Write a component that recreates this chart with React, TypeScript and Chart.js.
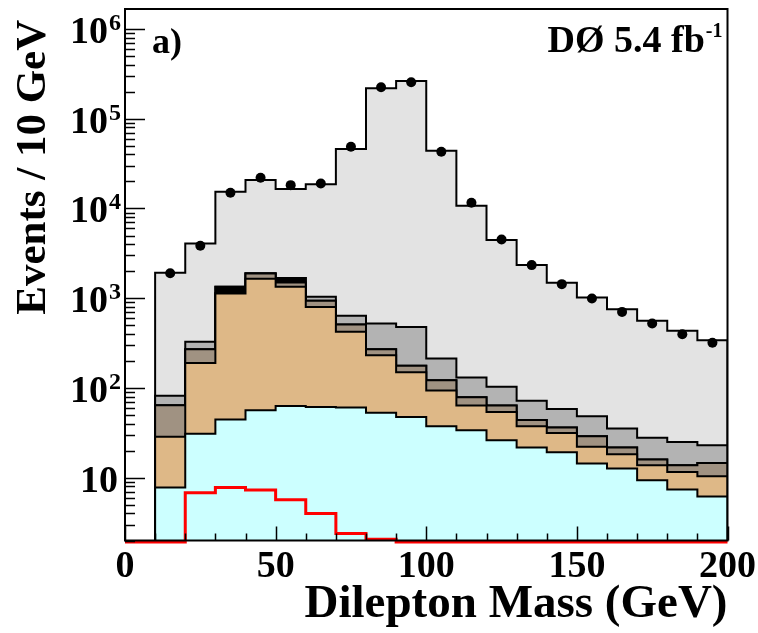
import React, { useEffect, useRef } from "react";
import { Chart, registerables } from "chart.js";

Chart.register(...registerables);

// ---- data (10 GeV bins, low edges) ----
const binLowEdges = [10, 20, 30, 40, 50, 60, 70, 80, 90, 100, 110, 120, 130, 140, 150, 160, 170, 180, 190];
const binWidth = 10;

// background components, stacked bottom -> top
const multijet = [7.8, 31, 44.6, 56.6, 63, 61.6, 60.5, 53, 47.6, 37.5, 33.9, 26.2, 21.7, 19.2, 14.4, 12.7, 9.4, 7.4, 6.2];
const ztautau = [20.8, 159, 1085, 1593, 1277, 738, 362, 179, 102, 56.5, 29.8, 28, 15.8, 12.4, 7.7, 5.6, 4.4, 4.2, 4.2];
const diboson = [35.7, 80, 10, 240, 154, 137, 88, 38, 27, 28, 15, 9.5, 6.5, 4.6, 6.9, 3.4, 2.2, 2.2, 4.2];
const wgamma = [0, 0, 200, 0, 186, 0, 0, 0, 0, 0, 0, 0, 0, 0, 0, 0, 0, 0, 0];
const wjets = [17.7, 57, 0, 10, 0, 101, 126, 254, 303, 91, 52.3, 39.3, 28.3, 22.1, 19.5, 13.6, 12, 11.3, 8.5];
const zee = [1838, 3753, 14010, 18850, 14770, 17542, 45263, 217476, 262520, 43787, 10569, 4347, 2268, 1428, 972, 720, 532, 408, 318];

const dataCounts = [1900, 3840, 15000, 22000, 18200, 19000, 48700, 224000, 255000, 42800, 11600, 4520, 2340, 1436, 995, 705, 524, 398, 319];
const signal = [0, 6.8, 7.8, 7.3, 5.7, 4.0, 2.4, 2.06, 0, 0, 0, 0, 0, 0, 0, 0, 0, 0, 0];

const xMin = 0;
const xMax = 200;
const yMin = 2;
const yMax = 1.67e6;
const signalFloor = 1.93;

const xTickValues = [0, 50, 100, 150, 200];
const yTickValues = [10, 100, 1000, 10000, 100000, 1000000];
const yTickBase = "10";
const yTickExponents = ["", "2", "3", "4", "5", "6"];

const xTitle = "Dilepton Mass (GeV)";
const yTitle = "Events / 10 GeV";
const panelLabel = "a)";
const expLabel = "DØ 5.4 fb";
const expLabelSup = "-1";

const layers = [
  { label: "Multijet", values: multijet, color: "#ccffff" },
  { label: "Z→ττ", values: ztautau, color: "#deb887" },
  { label: "Diboson", values: diboson, color: "#a09282" },
  { label: "Wγ", values: wgamma, color: "#000000" },
  { label: "W+jets", values: wjets, color: "#b3b3b3" },
  { label: "Z/γ*→ee", values: zee, color: "#e3e3e3" },
];

const SERIF = '"Liberation Serif", "Times New Roman", serif';

function histPoints(values: number[], floor: number, startAtX?: number) {
  const pts: { x: number; y: number }[] = [];
  const first = startAtX !== undefined ? startAtX : binLowEdges[0];
  pts.push({ x: first, y: floor });
  values.forEach((v, i) => pts.push({ x: binLowEdges[i], y: Math.max(v, floor) }));
  const lastEdge = binLowEdges[binLowEdges.length - 1] + binWidth;
  pts.push({ x: lastEdge, y: Math.max(values[values.length - 1], floor) });
  pts.push({ x: lastEdge, y: floor });
  return pts;
}

const decorPlugin = {
  id: "decor",
  afterDatasetsDraw(chart: any) {
    const { ctx, chartArea: a, scales } = chart;
    const x = scales.x;
    const y = scales.y;
    ctx.save();
    ctx.strokeStyle = "#000";
    ctx.lineWidth = 1.5;
    ctx.beginPath();
    // y ticks (inside)
    const eLo = Math.floor(Math.log10(y.min));
    const eHi = Math.ceil(Math.log10(y.max));
    for (let e = eLo; e <= eHi; e++) {
      for (let m = 1; m <= 9; m++) {
        const v = m * Math.pow(10, e);
        if (v < y.min || v > y.max) continue;
        const py = Math.round(y.getPixelForValue(v)) + 0.5;
        const len = m === 1 ? 20 : 10;
        ctx.moveTo(a.left, py);
        ctx.lineTo(a.left + len, py);
      }
    }
    // x ticks (inside)
    for (let v = xMin; v <= xMax; v += binWidth) {
      const px = Math.round(x.getPixelForValue(v)) + 0.5;
      const len = v % 50 === 0 ? 14 : 7;
      ctx.moveTo(px, a.bottom);
      ctx.lineTo(px, a.bottom - len);
    }
    ctx.stroke();
    // frame
    ctx.lineWidth = 2;
    ctx.strokeRect(a.left, a.top, a.right - a.left, a.bottom - a.top);

    // y tick labels with superscripts
    ctx.fillStyle = "#000";
    ctx.textAlign = "right";
    ctx.textBaseline = "alphabetic";
    const mainFont = `bold 38px ${SERIF}`;
    const supFont = `bold 24px ${SERIF}`;
    yTickValues.forEach((v, i) => {
      const py = y.getPixelForValue(v);
      const exp = yTickExponents[i];
      const right = a.left - 4;
      if (exp) {
        ctx.font = supFont;
        const ew = ctx.measureText(exp).width;
        ctx.fillText(exp, right, py + 1);
        ctx.font = mainFont;
        ctx.fillText(yTickBase, right - ew - 1, py + 14);
      } else {
        ctx.font = mainFont;
        ctx.fillText(yTickBase, right - 3, py + 14);
      }
    });

    // panel label
    ctx.textAlign = "left";
    ctx.font = `bold 36px ${SERIF}`;
    ctx.fillText(panelLabel, a.left + 27, a.top + 44);

    // experiment label
    ctx.font = `bold 20px ${SERIF}`;
    const sw = ctx.measureText(expLabelSup).width;
    ctx.textAlign = "right";
    ctx.fillText(expLabelSup, a.right - 5, a.top + 28);
    ctx.font = `bold 38px ${SERIF}`;
    ctx.fillText(expLabel, a.right - 5 - sw - 1, a.top + 43);
    ctx.restore();
  },
};

export default function App() {
  const ref = useRef<HTMLCanvasElement | null>(null);
  useEffect(() => {
    if (!ref.current) return;
    let cum = binLowEdges.map(() => 0);
    const layerSets = layers.map((l) => {
      cum = cum.map((c, i) => c + l.values[i]);
      return {
        type: "line" as const,
        label: l.label,
        data: histPoints(cum, yMin),
        stepped: true,
        fill: "start",
        backgroundColor: l.color,
        borderColor: "#000",
        borderWidth: 2,
        pointRadius: 0,
        borderJoinStyle: "miter",
      };
    });
    const dataSet = {
      type: "line" as const,
      label: "Data",
      data: binLowEdges.map((e, i) => ({ x: e + binWidth / 2, y: dataCounts[i] })),
      showLine: false,
      pointRadius: 5,
      pointBackgroundColor: "#000",
      pointBorderColor: "#000",
      pointBorderWidth: 0,
      borderColor: "#000",
      backgroundColor: "#000",
    };
    const signalSet = {
      type: "line" as const,
      label: "Signal",
      data: histPoints(signal, signalFloor, xMin),
      stepped: true,
      fill: false,
      borderColor: "#ff0000",
      borderWidth: 3,
      pointRadius: 0,
      clip: false,
      borderJoinStyle: "miter",
    };
    const chart = new Chart(ref.current, {
      type: "line",
      data: { datasets: [dataSet, signalSet, ...layerSets] as any },
      options: {
        animation: false,
        responsive: false,
        maintainAspectRatio: false,
        layout: { padding: { left: 0, top: 9, right: 30.5, bottom: 0 } },
        plugins: { legend: { display: false }, tooltip: { enabled: false } },
        scales: {
          x: {
            type: "linear",
            min: xMin,
            max: xMax,
            grid: { display: false },
            border: { display: false },
            afterBuildTicks: (s: any) => {
              s.ticks = xTickValues.map((v) => ({ value: v }));
            },
            ticks: {
              color: "#000",
              padding: -4,
              maxRotation: 0,
              autoSkip: false,
              font: { family: SERIF, size: 38, weight: "bold" },
            },
            title: {
              display: true,
              text: xTitle,
              align: "end",
              color: "#000",
              padding: { top: 0, bottom: 5 },
              font: { family: SERIF, size: 47, weight: "bold", lineHeight: 1 },
            },
            afterFit: (s: any) => {
              s.height = 92.5;
            },
          },
          y: {
            type: "logarithmic",
            min: yMin,
            max: yMax,
            grid: { display: false },
            border: { display: false },
            ticks: { display: false },
            title: {
              display: true,
              text: yTitle + " ",
              align: "end",
              color: "#000",
              padding: { top: 12, bottom: 0 },
              font: { family: SERIF, size: 43, weight: "bold", lineHeight: 1 },
            },
            afterFit: (s: any) => {
              s.width = 125;
            },
          },
        },
      } as any,
      plugins: [decorPlugin],
    });
    return () => chart.destroy();
  }, []);
  return (
    <div style={{ position: "absolute", left: 0, top: 0, width: 758, height: 633, background: "#fff" }}>
      <canvas ref={ref} width={758} height={633} style={{ display: "block", width: 758, height: 633 }} />
    </div>
  );
}
